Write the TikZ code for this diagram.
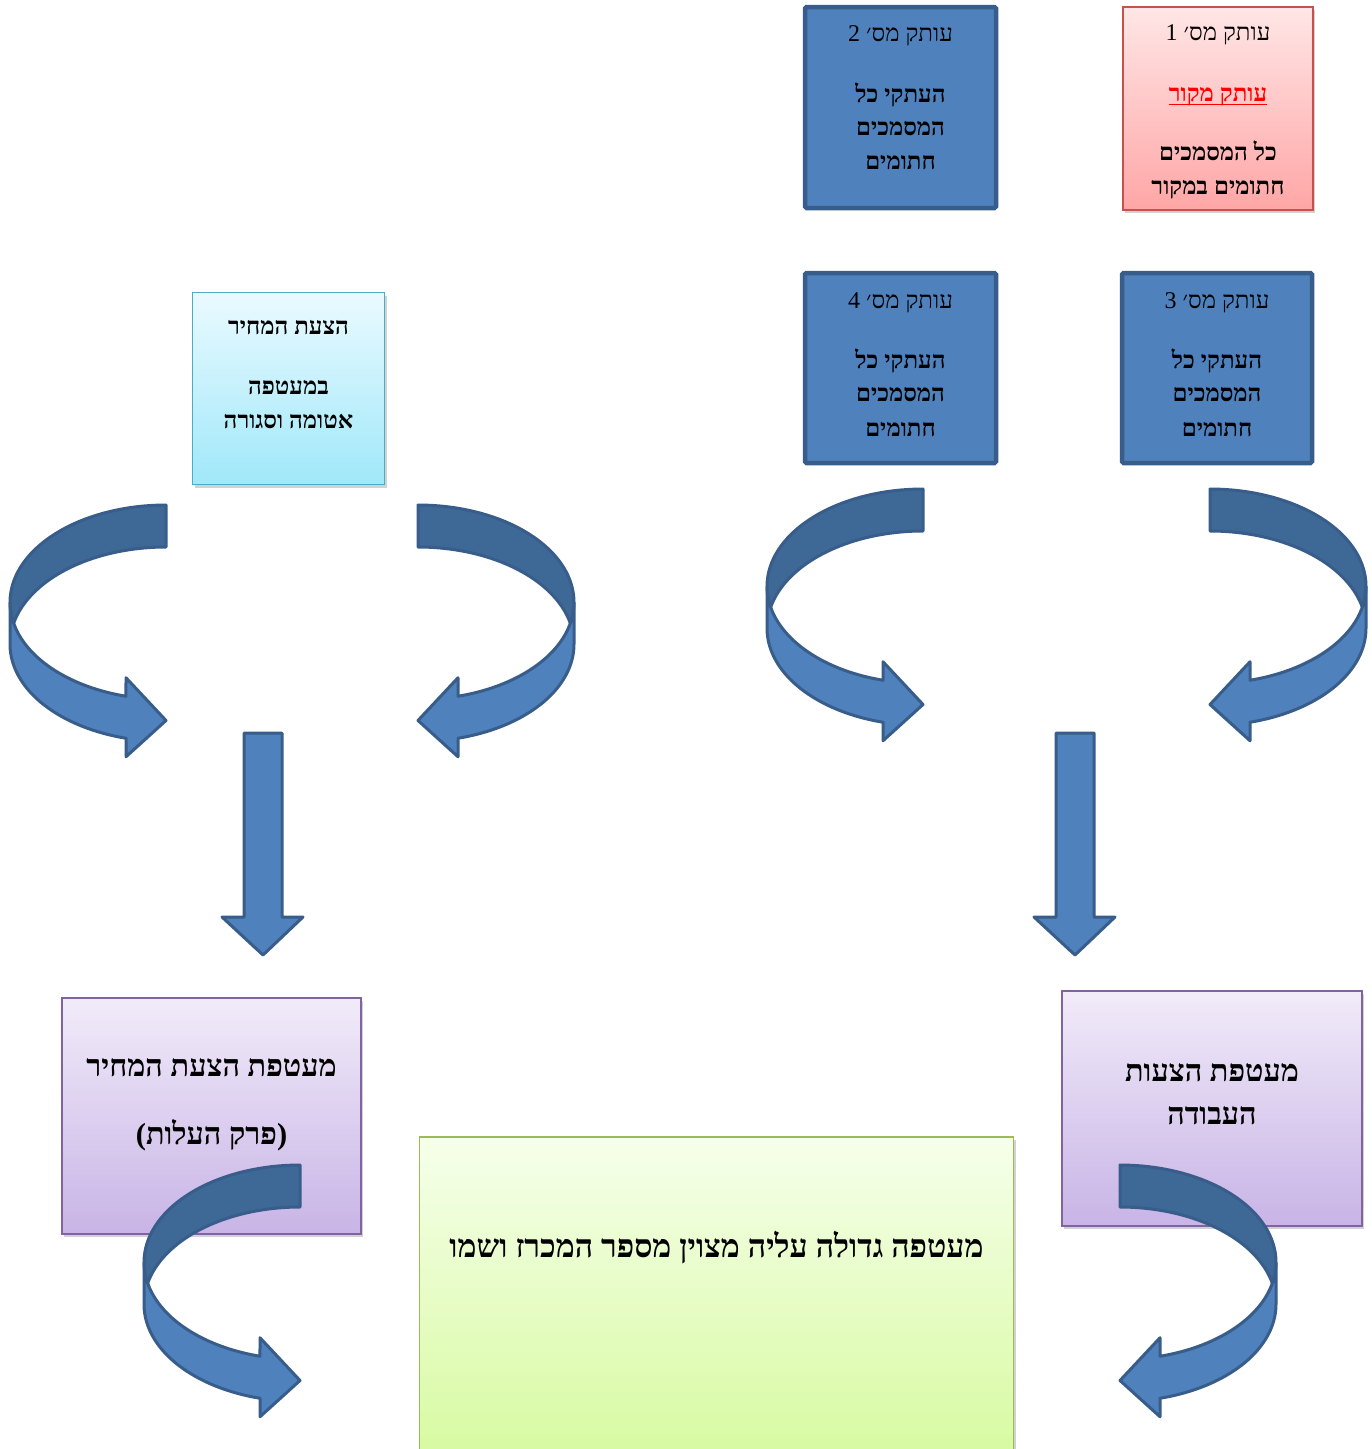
\documentclass[tikz,border=0pt]{standalone}
\usepackage{fontspec}
\setmainfont{Liberation Serif}[Script=Hebrew]
\TeXXeTstate=1
\usetikzlibrary{shadows}
\newcommand{\hebr}[1]{\beginR #1\endR}
\definecolor{frontblue}{RGB}{79,129,189}
\definecolor{backblue}{RGB}{62,104,150}
\definecolor{edgeblue}{RGB}{56,93,138}
\definecolor{pinkedge}{RGB}{200,80,77}
\definecolor{pinktop}{RGB}{255,230,230}
\definecolor{pinkbot}{RGB}{255,166,166}
\definecolor{cyanedge}{RGB}{75,172,198}
\definecolor{cyantop}{RGB}{234,250,255}
\definecolor{cyanbot}{RGB}{160,232,250}
\definecolor{purpedge}{RGB}{128,100,162}
\definecolor{purptop}{RGB}{241,235,249}
\definecolor{purpbot}{RGB}{200,180,230}
\definecolor{greenedge}{RGB}{155,187,89}
\definecolor{greentop}{RGB}{246,255,234}
\definecolor{greenbot}{RGB}{214,250,158}
\tikzset{
  front/.style={fill=frontblue, draw=edgeblue, line width=3pt, line join=round},
  back/.style={fill=backblue, draw=edgeblue, line width=3pt, line join=round},
  bluebox/.style={rectangle, inner sep=0pt, fill=frontblue, draw=edgeblue, line width=4.5pt, rounded corners=1.5pt},
  softshadow/.style={drop shadow={opacity=0.35, shadow xshift=2pt, shadow yshift=-3pt}},
  pinkbox/.style={rectangle, inner sep=0pt, draw=pinkedge, line width=2pt, top color=pinktop, bottom color=pinkbot, softshadow},
  cyanbox/.style={rectangle, inner sep=0pt, draw=cyanedge, line width=1.5pt, top color=cyantop, bottom color=cyanbot, softshadow},
  purpbox/.style={rectangle, inner sep=0pt, draw=purpedge, line width=2pt, top color=purptop, bottom color=purpbot, softshadow},
  greenbox/.style={rectangle, inner sep=0pt, draw=greenedge, line width=1.5pt, top color=greentop, bottom color=greenbot, softshadow},
  ttl/.style={anchor=base, inner sep=0pt, font=\fontsize{24}{28}\selectfont},
  bod/.style={anchor=base, inner sep=0pt, font=\bfseries\fontsize{24}{28}\selectfont},
  big/.style={anchor=base, inner sep=0pt, font=\bfseries\fontsize{30.5}{34}\selectfont},
  bigger/.style={anchor=base, inner sep=0pt, font=\bfseries\fontsize{32}{36}\selectfont},
  curvarrow/.pic={
    \filldraw[front] (-156,97.25)
      -- plot[domain=180:104.86, samples=40, variable=\t] ({156*cos(\t)},{97.25+97.25*sin(\t)})
      -- (-40,172.75) -- (0,215.5) -- (-40,251.75) -- (-40,233.25)
      -- plot[domain=104.86:180, samples=40, variable=\t] ({156*cos(\t)},{139.25+97.25*sin(\t)})
      -- cycle;
    \filldraw[back] (0,0)
      -- plot[domain=270:167.53, samples=40, variable=\t] ({156*cos(\t)},{97.25+97.25*sin(\t)})
      -- plot[domain=192.47:270, samples=40, variable=\t] ({156*cos(\t)},{139.25+97.25*sin(\t)})
      -- cycle;
  }
}
\begin{document}
\begin{tikzpicture}[x=1pt, y=-1pt]
\useasboundingbox (0,0) rectangle (1372,1449);
\fill[white] (0,0) rectangle (1372,1449);

% boxes
\node[pinkbox, minimum width=190pt, minimum height=203pt] (b1) at (1218,108.5) {};
\node[bluebox, minimum width=191pt, minimum height=201pt] (b2) at (900.5,107.5) {};
\node[bluebox, minimum width=190pt, minimum height=190pt] (b3) at (1217,368) {};
\node[bluebox, minimum width=191pt, minimum height=190pt] (b4) at (900.5,368) {};
\node[cyanbox, minimum width=192pt, minimum height=192pt] (bc) at (288.5,388.5) {};
\node[purpbox, minimum width=299pt, minimum height=236pt] (pl) at (211.5,1116) {};
\node[purpbox, minimum width=300pt, minimum height=235pt] (pr) at (1212,1108.5) {};
\node[greenbox, minimum width=594pt, minimum height=333pt] (gr) at (716.5,1303.5) {};

% texts box 1
\node[ttl] (t1a) at (1218,40) {\hebr{עותק מס׳ 1}};
\node[bod, text=red] (t1b) at (1218,101) {\hebr{עותק מקור}};
\draw[red, line width=1.8pt] ([yshift=-3.5pt]t1b.base west) -- ([yshift=-3.5pt]t1b.base east);
\node[bod] (t1c) at (1218,160) {\hebr{כל המסמכים}};
\node[bod] (t1d) at (1218,194) {\hebr{חתומים במקור}};
% box 2
\node[ttl] (t2a) at (900.5,41) {\hebr{עותק מס׳ 2}};
\node[bod] (t2b) at (900.5,102) {\hebr{העתקי כל}};
\node[bod] (t2c) at (900.5,135) {\hebr{המסמכים}};
\node[bod] (t2d) at (900.5,169) {\hebr{חתומים}};
% box 3
\node[ttl] (t3a) at (1217,308) {\hebr{עותק מס׳ 3}};
\node[bod] (t3b) at (1217,368) {\hebr{העתקי כל}};
\node[bod] (t3c) at (1217,401) {\hebr{המסמכים}};
\node[bod] (t3d) at (1217,436) {\hebr{חתומים}};
% box 4
\node[ttl] (t4a) at (900.5,308) {\hebr{עותק מס׳ 4}};
\node[bod] (t4b) at (900.5,368) {\hebr{העתקי כל}};
\node[bod] (t4c) at (900.5,401) {\hebr{המסמכים}};
\node[bod] (t4d) at (900.5,436) {\hebr{חתומים}};
% cyan
\node[bod] (tca) at (288.5,334) {\hebr{הצעת המחיר}};
\node[bod] (tcb) at (288.5,394) {\hebr{במעטפה}};
\node[bod] (tcc) at (288.5,428) {\hebr{אטומה וסגורה}};
% purple
\node[big] (tpla) at (211.5,1076) {\hebr{מעטפת הצעת המחיר}};
\node[big] (tplb) at (211.5,1144) {\hebr{(פרק העלות)}};
\node[big] (tpra) at (1212,1081) {\hebr{מעטפת הצעות}};
\node[big] (tprb) at (1212,1124) {\hebr{העבודה}};
% green
\node[bigger] (tg) at (716.5,1257) {\hebr{מעטפה גדולה עליה מצוין מספר המכרז ושמו}};

% curved arrows
\pic[shift={(166,505)}] {curvarrow};
\pic[shift={(418,505)}, xscale=-1] {curvarrow};
\pic[shift={(923,489)}] {curvarrow};
\pic[shift={(1210,489)}, xscale=-1] {curvarrow};
\pic[shift={(300,1165)}] {curvarrow};
\pic[shift={(1120,1165)}, xscale=-1] {curvarrow};

% straight down arrows
\filldraw[front] (244,733) -- (282,733) -- (282,917) -- (303,917) -- (263,955) -- (222,917) -- (244,917) -- cycle;
\filldraw[front] (1056,733) -- (1094,733) -- (1094,917) -- (1115,917) -- (1075,955) -- (1034,917) -- (1056,917) -- cycle;
\end{tikzpicture}
\end{document}
